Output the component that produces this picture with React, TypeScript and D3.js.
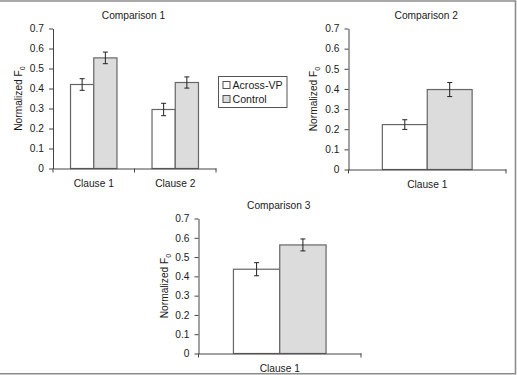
import { useEffect, useRef } from "react";
import { select, scaleLinear, scaleBand, axisLeft, axisBottom, format } from "d3";

// series names (legend)
const seriesNames = ["Across-VP", "Control"];
const seriesFill = ["#ffffff", "#dcdcdc"];

// y axis ticks shared by every panel
const yTicks = [0, 0.1, 0.2, 0.3, 0.4, 0.5, 0.6, 0.7];

// Comparison 1
const comp1Categories = ["Clause 1", "Clause 2"];
const comp1Across = [0.42, 0.295];
const comp1AcrossErr = [0.029, 0.031];
const comp1Control = [0.553, 0.43];
const comp1ControlErr = [0.029, 0.028];

// Comparison 2
const comp2Categories = ["Clause 1"];
const comp2Across = [0.223];
const comp2AcrossErr = [0.024];
const comp2Control = [0.397];
const comp2ControlErr = [0.035];

// Comparison 3
const comp3Categories = ["Clause 1"];
const comp3Across = [0.437];
const comp3AcrossErr = [0.034];
const comp3Control = [0.563];
const comp3ControlErr = [0.031];

const FONT = "'Liberation Sans', Arial, sans-serif";
const AXIS_COLOR = "#444";
const TEXT_COLOR = "#1a1a1a";

type Panel = {
  title: string;
  categories: string[];
  values: number[][];
  errors: number[][];
  left: number;
  right: number;
  top: number; // y pixel of 0.7
  bottom: number; // y pixel of 0
  labelX: number; // baseline of rotated y label
};

const panels: Panel[] = [
  {
    title: "Comparison 1",
    categories: comp1Categories,
    values: [comp1Across, comp1Control],
    errors: [comp1AcrossErr, comp1ControlErr],
    left: 53,
    right: 216,
    top: 28.5,
    bottom: 168.5,
    labelX: 22,
  },
  {
    title: "Comparison 2",
    categories: comp2Categories,
    values: [comp2Across, comp2Control],
    errors: [comp2AcrossErr, comp2ControlErr],
    left: 348.5,
    right: 506,
    top: 28.5,
    bottom: 169.5,
    labelX: 317,
  },
  {
    title: "Comparison 3",
    categories: comp3Categories,
    values: [comp3Across, comp3Control],
    errors: [comp3AcrossErr, comp3ControlErr],
    left: 198.5,
    right: 361,
    top: 218.5,
    bottom: 353.5,
    labelX: 168,
  },
];

const drawPanel = (svg: any, p: Panel) => {
  const y = scaleLinear([0, 0.7], [p.bottom, p.top]);
  const x = scaleBand(p.categories, [p.left, p.right]);
  // the two bars sit in the middle ~57% of each band
  const inner = scaleBand(seriesNames, [0, x.bandwidth() * 0.57]);
  const groupOffset = x.bandwidth() * 0.215;

  const g = svg.append("g");

  // title
  g.append("text")
    .text(p.title)
    .attr("x", (p.left + p.right) / 2 - 1)
    .attr("y", p.top - 10)
    .attr("text-anchor", "middle")
    .attr("font-size", 10.2)
    .attr("fill", TEXT_COLOR);

  // bars
  seriesNames.forEach((s, si) => {
    g.append("g")
      .selectAll("rect")
      .data(p.values[si])
      .enter()
      .append("rect")
      .attr("x", (d: number, i: number) => (x(p.categories[i]) as number) + groupOffset + (inner(s) as number))
      .attr("y", (d: number) => y(d))
      .attr("width", inner.bandwidth())
      .attr("height", (d: number) => y(0) - y(d))
      .attr("fill", seriesFill[si])
      .attr("stroke", "#666")
      .attr("stroke-width", 1.2);
  });

  // error bars
  seriesNames.forEach((s, si) => {
    p.values[si].forEach((v, i) => {
      const cx = (x(p.categories[i]) as number) + groupOffset + (inner(s) as number) + inner.bandwidth() / 2;
      const e = p.errors[si][i];
      const eg = g.append("g").attr("stroke", "#222").attr("stroke-width", 1);
      eg.append("line").attr("x1", cx).attr("x2", cx).attr("y1", y(v - e)).attr("y2", y(v + e));
      eg.append("line").attr("x1", cx - 2.5).attr("x2", cx + 2.5).attr("y1", y(v - e)).attr("y2", y(v - e));
      eg.append("line").attr("x1", cx - 2.5).attr("x2", cx + 2.5).attr("y1", y(v + e)).attr("y2", y(v + e));
    });
  });

  // y axis
  const fmt = format(".1f");
  const ya = g
    .append("g")
    .attr("transform", `translate(${p.left},0)`)
    .call(
      axisLeft(y)
        .tickValues(yTicks)
        .tickSize(4)
        .tickSizeOuter(0)
        .tickPadding(5)
        .tickFormat((d: any) => (d === 0 ? "0" : fmt(d)))
    );
  ya.selectAll("text").attr("font-size", 10.2).attr("font-family", FONT).attr("fill", TEXT_COLOR);
  ya.selectAll("line, path").attr("stroke", AXIS_COLOR);

  // x axis: labels at band centres, ticks at band edges
  const xa = g
    .append("g")
    .attr("transform", `translate(0,${p.bottom})`)
    .call(axisBottom(x).tickSize(0).tickSizeOuter(0).tickPadding(11));
  xa.selectAll("text").attr("font-size", 10.2).attr("font-family", FONT).attr("fill", TEXT_COLOR);
  xa.select("path").attr("stroke", AXIS_COLOR);
  const edges = [p.left, ...p.categories.map((c) => (x(c) as number) + x.bandwidth())];
  g.append("g")
    .selectAll("line")
    .data(edges)
    .enter()
    .append("line")
    .attr("x1", (d: number) => d)
    .attr("x2", (d: number) => d)
    .attr("y1", p.bottom)
    .attr("y2", p.bottom + 4)
    .attr("stroke", AXIS_COLOR);

  // y label with subscript
  const lab = g
    .append("text")
    .attr("transform", `translate(${p.labelX},${(p.top + p.bottom) / 2}) rotate(-90)`)
    .attr("text-anchor", "middle")
    .attr("font-size", 10.2)
    .attr("fill", TEXT_COLOR);
  lab.append("tspan").text("Normalized F");
  lab.append("tspan").text("0").attr("font-size", 7).attr("dy", 2.5);
};

const DrawChart = (el: SVGSVGElement) => {
  const svg = select(el);
  svg.selectAll("*").remove();

  svg.append("rect").attr("width", 517).attr("height", 375).attr("fill", "#fff");

  // frame (top, right, bottom)
  svg
    .append("path")
    .attr("d", "M0,1 H515.5 V373.8 H0")
    .attr("fill", "none")
    .attr("stroke", "#8c8c8c")
    .attr("stroke-width", 1.6);

  panels.forEach((p) => drawPanel(svg, p));

  // legend
  const lg = svg.append("g").attr("transform", "translate(218.5,76.5)");
  lg.append("rect")
    .attr("width", 68.5)
    .attr("height", 31)
    .attr("fill", "#fff")
    .attr("stroke", "#555");
  seriesNames.forEach((s, i) => {
    lg.append("rect")
      .attr("x", 4.5)
      .attr("y", 5 + i * 14)
      .attr("width", 7)
      .attr("height", 7)
      .attr("fill", seriesFill[i])
      .attr("stroke", "#555");
    lg.append("text")
      .text(s)
      .attr("x", 14)
      .attr("y", 12.5 + i * 14)
      .attr("font-size", 10.6)
      .attr("fill", TEXT_COLOR);
  });
};

const App = () => {
  const ref = useRef<SVGSVGElement>(null);
  useEffect(() => {
    if (ref.current) DrawChart(ref.current);
  }, []);
  return (
    <div style={{ position: "absolute", left: 0, top: 0 }}>
      <svg ref={ref} width={517} height={375} style={{ display: "block", fontFamily: FONT }} />
    </div>
  );
};

export default App;
